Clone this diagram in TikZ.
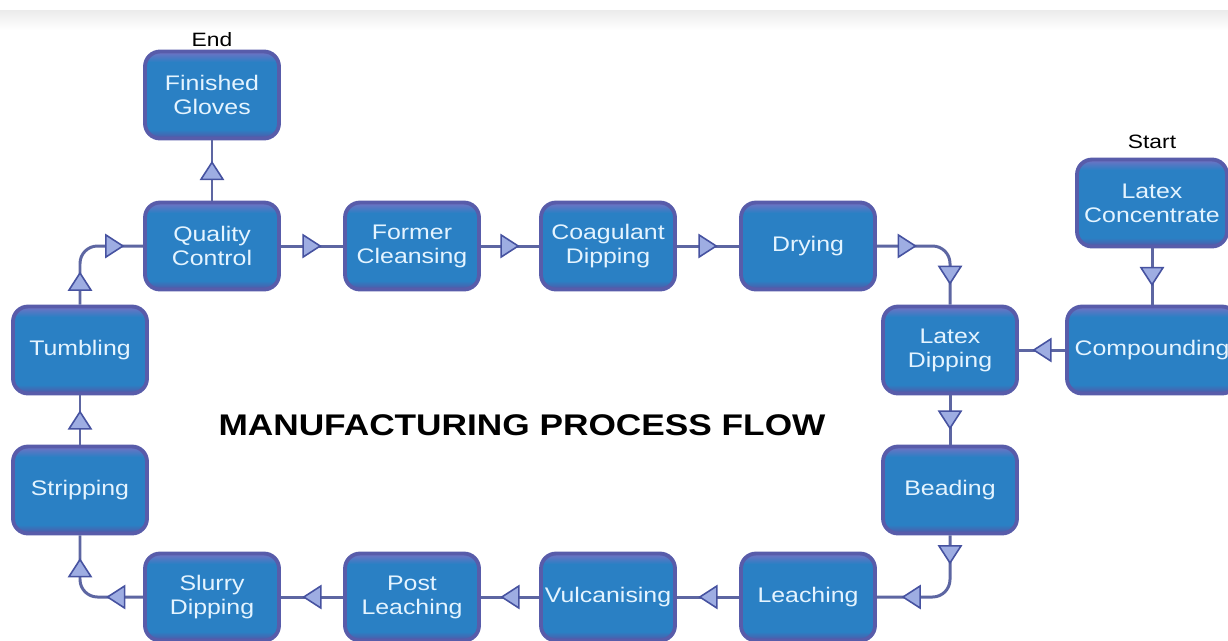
\documentclass[tikz,border=0pt]{standalone}
\usepackage{fontspec}
\setmainfont[FakeStretch=1.18]{Liberation Sans}
\usetikzlibrary{arrows.meta,decorations.markings}
\definecolor{stageBlue}{HTML}{2A80C4}
\definecolor{stageHigh}{HTML}{7472C4}
\definecolor{stageLow}{HTML}{5456A6}
\definecolor{stageEdge}{HTML}{585CAA}
\definecolor{stageText}{HTML}{E4F4FF}
\definecolor{flowLine}{HTML}{5D66A2}
\definecolor{tipFill}{HTML}{9EADE2}
\definecolor{tipEdge}{HTML}{4652A0}
\newcommand{\wst}{2.68cm}
\newcommand{\hst}{1.74cm}
\newcommand{\bend}{0.35cm}
\pgfdeclareverticalshading{stageshade}{100bp}{color(0bp)=(stageLow); color(25bp)=(stageLow);
  color(30bp)=(stageBlue); color(69bp)=(stageBlue); color(75bp)=(stageHigh); color(100bp)=(stageHigh)}
\tikzset{flowtip/.tip={Triangle[length=11pt,width=14pt,fill=tipFill,color=tipEdge,line width=0.9pt]}}

\begin{document}
\begin{tikzpicture}[x=0.02cm,y=-0.02cm,
    stage/.style={rectangle,rounded corners=0.3cm,minimum width=\wst,minimum height=\hst,
      shading=stageshade,draw=stageEdge,line width=2.2pt,text=stageText,align=center,
      inner sep=2pt,font=\fontsize{12}{13.6}\selectfont},
    flow/.style={draw=flowLine,line width=1.7pt},
    mk/.style={postaction={decorate,decoration={markings,mark=at position #1 with {\arrow{flowtip}}}}},
    mid/.style={postaction={decorate,decoration={markings,mark=at position 0.5 with {\pgftransformxshift{5.5pt}\arrow{flowtip}}}}}]
    \useasboundingbox (0,0) rectangle (1228,640);
    % --- --- --- faint band along the top
    \fill[top color=black!8,bottom color=white] (0,10) rectangle (1228,30);
    % === === === Stages, top row
    \node[stage] (fin) at (212,95) {Finished\\Gloves};
    \node[stage] (qc) at (212,246) {Quality\\Control};
    \node[stage] (fc) at (412,246) {Former\\Cleansing};
    \node[stage] (coag) at (608,246) {Coagulant\\Dipping};
    \node[stage] (dry) at (808,246) {Drying};
    % === === === Stages, right side
    \node[stage,minimum width=3cm] (lconc) at (1152,203) {Latex\\Concentrate};
    \node[stage,minimum width=3.4cm] (comp) at (1152,350) {Compounding};
    \node[stage] (ldip) at (950,350) {Latex\\Dipping};
    \node[stage] (bead) at (950,490) {Beading};
    % === === === Stages, bottom row
    \node[stage] (leach) at (808,597) {Leaching};
    \node[stage] (vulc) at (608,597) {Vulcanising};
    \node[stage] (post) at (412,597) {Post\\Leaching};
    \node[stage] (slurry) at (212,597) {Slurry\\Dipping};
    % === === === Stages, left side
    \node[stage] (strip) at (80,490) {Stripping};
    \node[stage] (tumb) at (80,350) {Tumbling};
    % --- --- --- Labels
    \node[font=\fontsize{11}{13}\selectfont] (endlbl) at (212,40) {End};
    \node[font=\fontsize{11}{13}\selectfont] (startlbl) at (1152,142) {Start};
    \node[font=\bfseries\fontsize{17}{20}\selectfont] (title) at (522,425) {MANUFACTURING PROCESS FLOW};
    % === === === Flow
    \path[flow,mid] (lconc) -- (comp);
    \path[flow,mid] (comp) -- (ldip);
    \path[flow,mid] (ldip) -- (bead);
    \path[flow,rounded corners=\bend,mk=0.58cm,mk=2.05cm] (bead.south) |- (leach.east);
    \path[flow,mid] (leach) -- (vulc);
    \path[flow,mid] (vulc) -- (post);
    \path[flow,mid] (post) -- (slurry);
    \path[flow,rounded corners=\bend,mk=0.74cm,mk=1.89cm] (slurry.west) -| (strip.south);
    \path[flow,mid] (strip) -- (tumb);
    \path[flow,rounded corners=\bend,mk=0.66cm,mk=1.91cm] (tumb.north) |- (qc.west);
    \path[flow,mid] (qc) -- (fin);
    \path[flow,mid] (qc) -- (fc);
    \path[flow,mid] (fc) -- (coag);
    \path[flow,mid] (coag) -- (dry);
    \path[flow,rounded corners=\bend,mk=0.8cm,mk=2.09cm] (dry.east) -| (ldip.north);
\end{tikzpicture}
\end{document}
